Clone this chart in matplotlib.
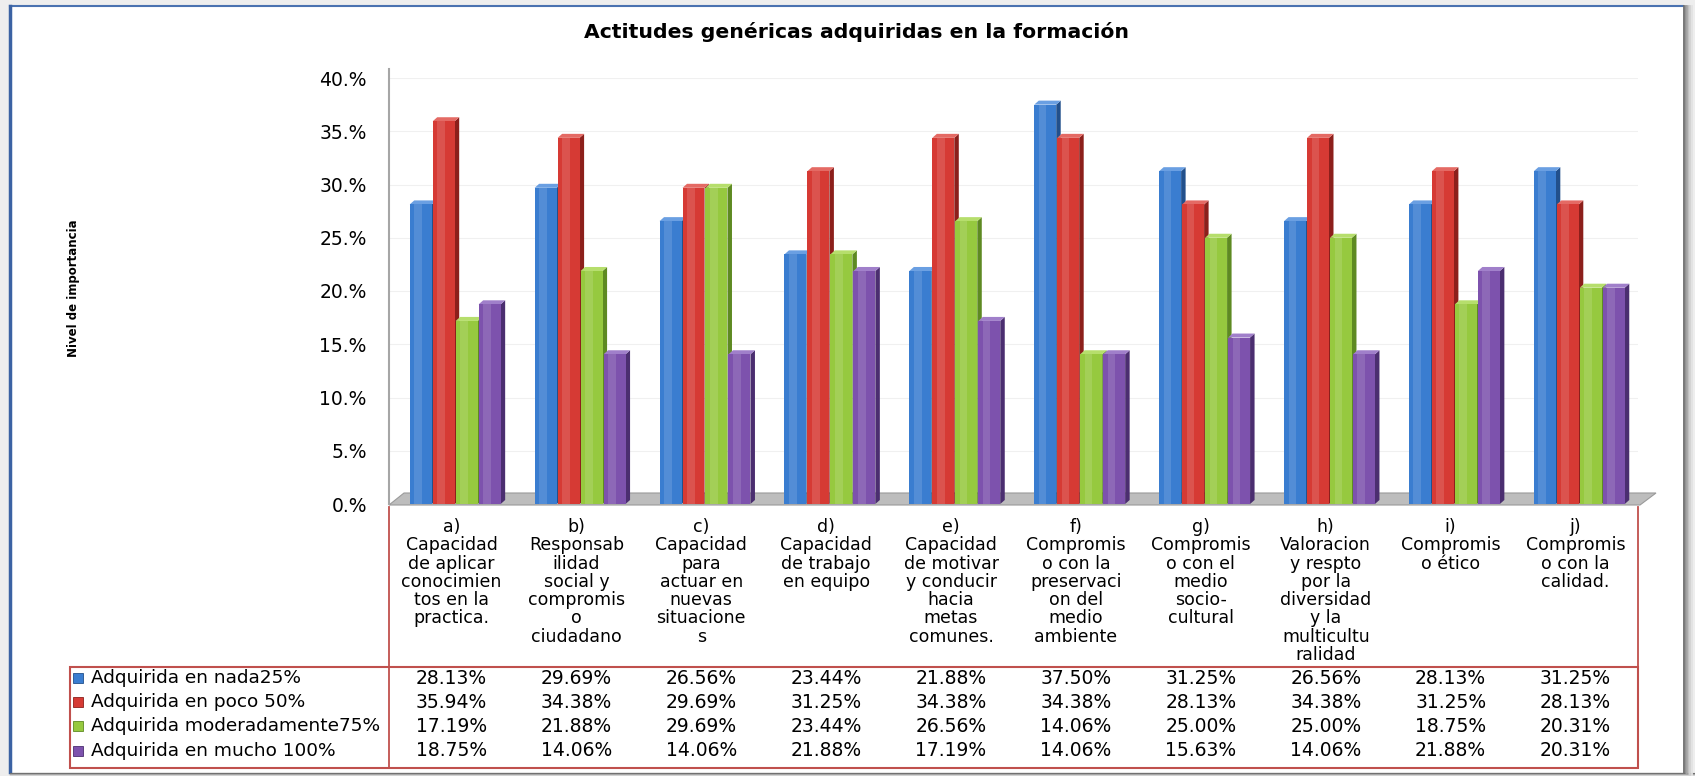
import numpy as np
import matplotlib.pyplot as plt
from matplotlib.patches import Rectangle, Polygon
from matplotlib.lines import Line2D
from matplotlib import transforms

# data

categories = [
    "a)\nCapacidad\nde aplicar\nconocimien\ntos en la\npractica.",
    "b)\nResponsab\nilidad\nsocial y\ncompromis\no\nciudadano",
    "c)\nCapacidad\npara\nactuar en\nnuevas\nsituacione\ns",
    "d)\nCapacidad\nde trabajo\nen equipo",
    "e)\nCapacidad\nde motivar\ny conducir\nhacia\nmetas\ncomunes.",
    "f)\nCompromis\no con la\npreservaci\non del\nmedio\nambiente",
    "g)\nCompromis\no con el\nmedio\nsocio-\ncultural",
    "h)\nValoracion\ny respto\npor la\ndiversidad\ny la\nmulticultu\nralidad",
    "i)\nCompromis\no ético",
    "j)\nCompromis\no con la\ncalidad.",
]

nada = [28.13, 29.69, 26.56, 23.44, 21.88, 37.50, 31.25, 26.56, 28.13, 31.25]
poco = [35.94, 34.38, 29.69, 31.25, 34.38, 34.38, 28.13, 34.38, 31.25, 28.13]
moderada = [17.19, 21.88, 29.69, 23.44, 26.56, 14.06, 25.00, 25.00, 18.75, 20.31]
mucho = [18.75, 14.06, 14.06, 21.88, 17.19, 14.06, 15.63, 14.06, 21.88, 20.31]

series_names = ["Adquirida en nada25%", "Adquirida en poco 50%",
                "Adquirida moderadamente75%", "Adquirida en mucho 100%"]

yticks = [0, 5, 10, 15, 20, 25, 30, 35, 40]
ytick_labels = ["0.%", "5.%", "10.%", "15.%", "20.%", "25.%", "30.%", "35.%", "40.%"]

title = "Actitudes genéricas adquiridas en la formación"
ylabel = "Nivel de importancia"

# front, side, top colours for each series
colours = [
    ("#3a7dd0", "#22508c", "#6a9fe2"),
    ("#d63a34", "#8c1f1b", "#e46a64"),
    ("#96c93f", "#5e8a22", "#b6de6c"),
    ("#7d52ad", "#4b2e70", "#a07fca"),
]

series = [nada, poco, moderada, mucho]

W, H = 1695, 776


def fx(px):
    return px / W


def fy(py):
    return 1 - py / H


plt.rcParams['font.family'] = ['DejaVu Sans']

fig = plt.figure(figsize=(16.95, 7.76), dpi=100)
fig.patch.set_facecolor("#eeeeee")

# white chart area with the blue frame and grey shadow
fig.patches.append(Rectangle((fx(10), fy(772)), fx(1683) - fx(10), fy(6) - fy(772),
                             transform=fig.transFigure, facecolor="white",
                             edgecolor="none", zorder=-5))
fig.lines.append(Line2D([fx(10), fx(1683)], [fy(6), fy(6)], transform=fig.transFigure,
                        color="#4a72b0", lw=1.5, zorder=-4))
fig.lines.append(Line2D([fx(10), fx(10)], [fy(6), fy(772)], transform=fig.transFigure,
                        color="#3b62a3", lw=2.5, zorder=-4))
shade = ["#6e6e6e", "#8a8a8a", "#a4a4a4", "#bcbcbc", "#d2d2d2", "#e2e2e2"]
for k, c in enumerate(shade):
    fig.lines.append(Line2D([fx(1684 + 1.6 * k)] * 2, [fy(6), fy(776)],
                            transform=fig.transFigure, color=c, lw=1.3, zorder=-4))
    fig.lines.append(Line2D([fx(10), fx(1695)], [fy(773 + 0.6 * k)] * 2,
                            transform=fig.transFigure, color=c, lw=0.8, zorder=-4))

# bar axes
ax = fig.add_axes([fx(389), fy(504), fx(1638) - fx(389), fy(78) - fy(504)])
ax.set_zorder(2)
ax.set_xlim(-0.5, 9.5)
ax.set_ylim(0, 40)
ax.set_facecolor("none")
for s in ["top", "right", "bottom"]:
    ax.spines[s].set_visible(False)
ax.spines["left"].set_color("#a6a6a6")
ax.spines["left"].set_linewidth(1.5)
ax.spines["left"].set_bounds(0, 40.8)
ax.set_xticks([])
ax.set_yticks(yticks)
ax.set_yticklabels(ytick_labels, fontsize=13.5)
ax.tick_params(axis="y", length=0, pad=16)
ax.yaxis.grid(True, color="#f0f0f0", lw=0.8)
ax.set_axisbelow(True)

# grey floor
ppx = 10 / (1638 - 389)
ppy = 40 / (504 - 78)
floor = Polygon([(-0.5, -1 * ppy), (9.5 + 2 * ppx, -1 * ppy),
                 (9.5 + 18 * ppx, 11 * ppy), (-0.5 + 15 * ppx, 11 * ppy)],
                closed=True, facecolor="#bdbdbd", edgecolor="#9a9a9a", lw=0.8,
                clip_on=False, zorder=1)
ax.add_patch(floor)

# 3D-looking bars
step = 0.184
w = 0.176
shift = 0.03
dx = 4.5 * ppx
dy = 4.0 * ppy
idx = np.arange(len(categories))
for j, (vals, (front, side, top)) in enumerate(zip(series, colours)):
    xs = idx + (j - 1.5) * step + shift
    z = 3 + j
    ax.bar(xs, vals, width=w, color=front, zorder=z + 0.5, lw=0, clip_on=False)
    ax.bar(xs - w * 0.12, vals, width=w * 0.35, color="white", alpha=0.13,
           zorder=z + 0.6, lw=0, clip_on=False)
    for x, v in zip(xs, vals):
        r = x + w / 2
        l = x - w / 2
        ax.add_patch(Polygon([(r, 0), (r + dx, dy), (r + dx, v + dy), (r, v)],
                             closed=True, facecolor=side, lw=0, zorder=z, clip_on=False))
        ax.add_patch(Polygon([(l, v), (r, v), (r + dx, v + dy), (l + dx, v + dy)],
                             closed=True, facecolor=top, lw=0, zorder=z, clip_on=False))

# title and axis label
fig.text(fx(857), fy(32), title, ha="center", va="center", fontsize=14.7, fontweight="bold")
fig.text(fx(73), fy(288), ylabel, ha="center", va="center", rotation=90,
         fontsize=8.5, fontweight="bold")

# category labels and data table
blend = transforms.blended_transform_factory(ax.transData, fig.transFigure)
table_red = "#c0504d"

for i, lab in enumerate(categories):
    ax.text(i, fy(518), lab, transform=blend, ha="center", va="top",
            fontsize=12.5, linespacing=1.02, multialignment="center")

for xv in [-0.5, 9.5]:
    ax.add_line(Line2D([xv, xv], [fy(507), fy(667)], transform=blend,
                       color=table_red, lw=1.3, clip_on=False))

fig.patches.append(Rectangle((fx(70), fy(768)), fx(1638) - fx(70), fy(667) - fy(768),
                             transform=fig.transFigure, facecolor="none",
                             edgecolor=table_red, lw=1.5))
fig.lines.append(Line2D([fx(389), fx(389)], [fy(667), fy(768)], transform=fig.transFigure,
                        color=table_red, lw=1.3))

row_y = [678, 702, 726, 751]
for j, (name, vals, (front, side, top)) in enumerate(zip(series_names, series, colours)):
    yy = row_y[j]
    fig.patches.append(Rectangle((fx(73), fy(yy + 5)), fx(10), fy(0) - fy(10),
                                 transform=fig.transFigure, facecolor=front,
                                 edgecolor=side, lw=0.6))
    fig.text(fx(91), fy(yy), name, ha="left", va="center", fontsize=13.3)
    for i, v in enumerate(vals):
        ax.text(i, fy(yy), f"{v:.2f}%", transform=blend, ha="center", va="center",
                fontsize=13.5)

plt.savefig("out.png", dpi=100, facecolor=fig.get_facecolor())
